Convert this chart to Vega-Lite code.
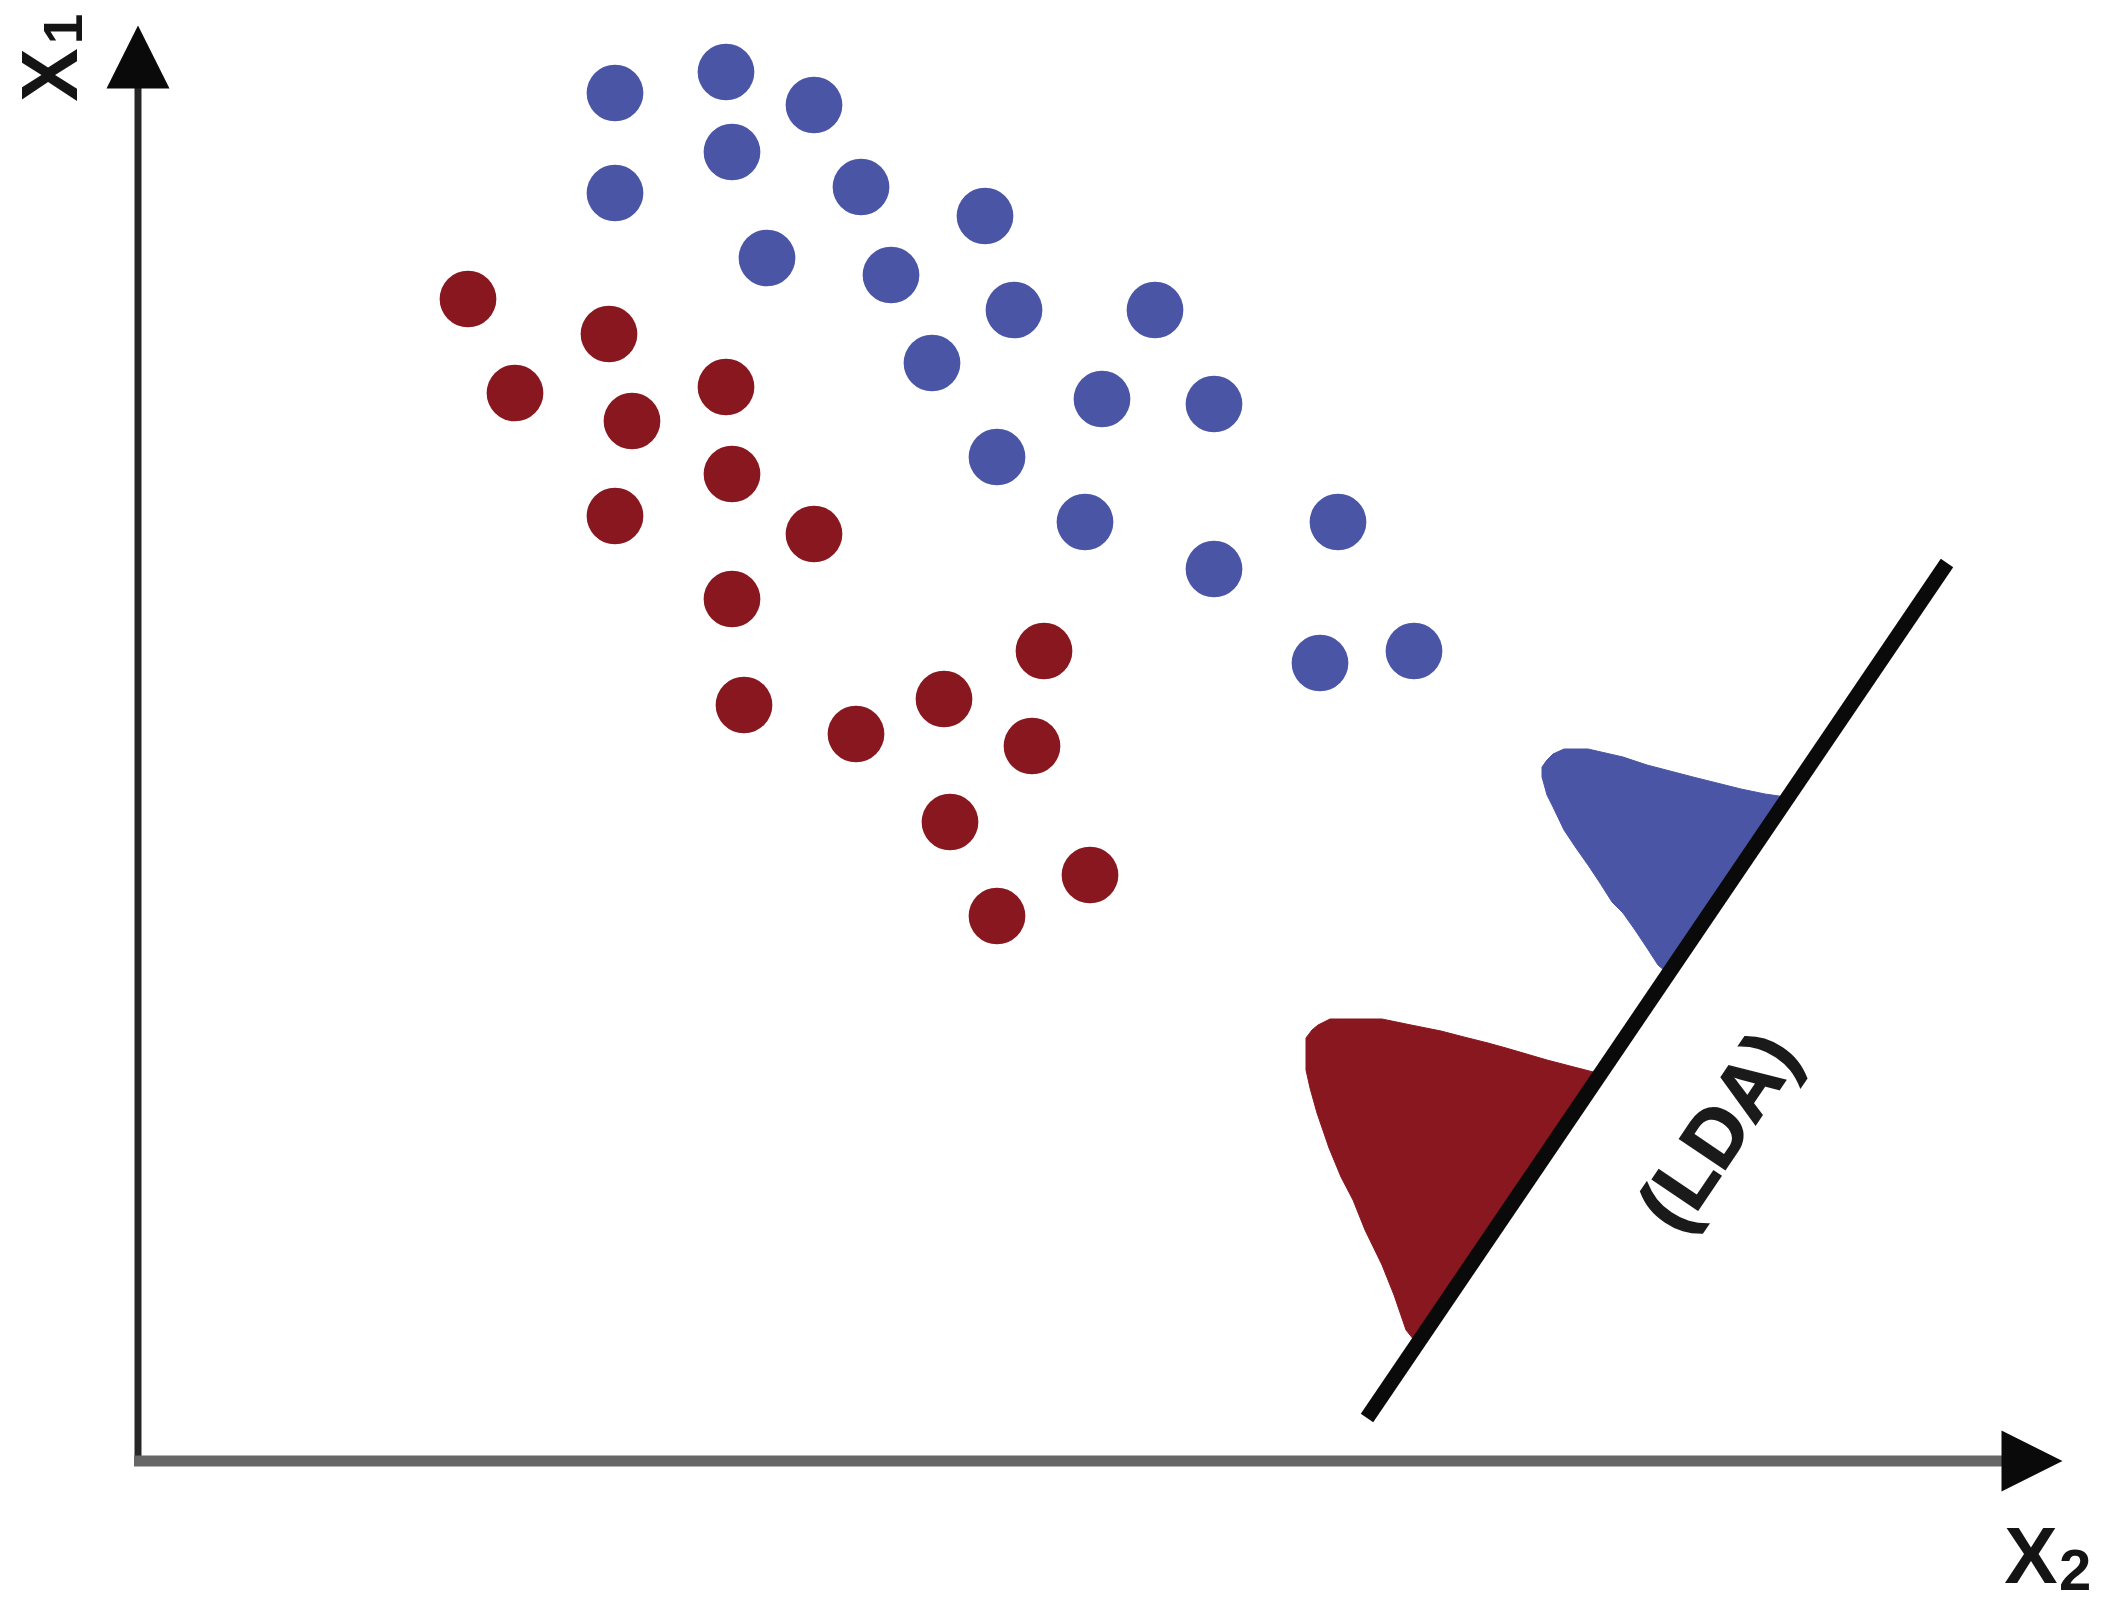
{
  "$schema": "https://vega.github.io/schema/vega-lite/v6.json",
  "width": 2107,
  "height": 1608,
  "autosize": {"type": "none"},
  "padding": 0,
  "background": "white",
  "config": {"view": {"stroke": null}},
  "datasets": {
    "dots": [
      {"cls": "blue", "x": 477, "y": 1368}, {"cls": "blue", "x": 588, "y": 1389}, {"cls": "blue", "x": 676, "y": 1356},
      {"cls": "blue", "x": 594, "y": 1309}, {"cls": "blue", "x": 477, "y": 1268}, {"cls": "blue", "x": 723, "y": 1274},
      {"cls": "blue", "x": 847, "y": 1245}, {"cls": "blue", "x": 629, "y": 1203}, {"cls": "blue", "x": 753, "y": 1186},
      {"cls": "blue", "x": 876, "y": 1151}, {"cls": "blue", "x": 1017, "y": 1151}, {"cls": "blue", "x": 794, "y": 1098},
      {"cls": "blue", "x": 964, "y": 1062}, {"cls": "blue", "x": 1076, "y": 1057}, {"cls": "blue", "x": 859, "y": 1004},
      {"cls": "blue", "x": 947, "y": 939}, {"cls": "blue", "x": 1200, "y": 939}, {"cls": "blue", "x": 1076, "y": 892},
      {"cls": "blue", "x": 1182, "y": 798}, {"cls": "blue", "x": 1276, "y": 810},
      {"cls": "red", "x": 330, "y": 1162}, {"cls": "red", "x": 471, "y": 1127}, {"cls": "red", "x": 377, "y": 1068},
      {"cls": "red", "x": 588, "y": 1074}, {"cls": "red", "x": 494, "y": 1040}, {"cls": "red", "x": 594, "y": 987},
      {"cls": "red", "x": 477, "y": 945}, {"cls": "red", "x": 676, "y": 927}, {"cls": "red", "x": 594, "y": 862},
      {"cls": "red", "x": 906, "y": 810}, {"cls": "red", "x": 606, "y": 756}, {"cls": "red", "x": 806, "y": 762},
      {"cls": "red", "x": 718, "y": 727}, {"cls": "red", "x": 894, "y": 715}, {"cls": "red", "x": 812, "y": 639},
      {"cls": "red", "x": 952, "y": 586}, {"cls": "red", "x": 859, "y": 545}
    ],
    "cones": [
      {"cls": "blue", "i": 1, "x": 1404, "y": 684}, {"cls": "blue", "i": 2, "x": 1404, "y": 694},
      {"cls": "blue", "i": 3, "x": 1409, "y": 701}, {"cls": "blue", "i": 4, "x": 1415, "y": 707},
      {"cls": "blue", "i": 5, "x": 1426, "y": 712}, {"cls": "blue", "i": 6, "x": 1450, "y": 712},
      {"cls": "blue", "i": 7, "x": 1485, "y": 704}, {"cls": "blue", "i": 8, "x": 1509, "y": 696},
      {"cls": "blue", "i": 9, "x": 1532, "y": 690}, {"cls": "blue", "i": 10, "x": 1555, "y": 684},
      {"cls": "blue", "i": 11, "x": 1579, "y": 678}, {"cls": "blue", "i": 12, "x": 1603, "y": 672},
      {"cls": "blue", "i": 13, "x": 1627, "y": 667}, {"cls": "blue", "i": 14, "x": 1648, "y": 664},
      {"cls": "blue", "i": 15, "x": 1528, "y": 489}, {"cls": "blue", "i": 16, "x": 1520, "y": 496},
      {"cls": "blue", "i": 17, "x": 1509, "y": 513}, {"cls": "blue", "i": 18, "x": 1497, "y": 531},
      {"cls": "blue", "i": 19, "x": 1485, "y": 548}, {"cls": "blue", "i": 20, "x": 1474, "y": 559},
      {"cls": "blue", "i": 21, "x": 1462, "y": 578}, {"cls": "blue", "i": 22, "x": 1450, "y": 596},
      {"cls": "blue", "i": 23, "x": 1438, "y": 613}, {"cls": "blue", "i": 24, "x": 1426, "y": 631},
      {"cls": "blue", "i": 25, "x": 1415, "y": 654}, {"cls": "blue", "i": 26, "x": 1409, "y": 666},
      {"cls": "blue", "i": 27, "x": 1404, "y": 684},
      {"cls": "red", "i": 1, "x": 1168, "y": 391}, {"cls": "red", "i": 2, "x": 1168, "y": 423},
      {"cls": "red", "i": 3, "x": 1174, "y": 431}, {"cls": "red", "i": 4, "x": 1180, "y": 436},
      {"cls": "red", "i": 5, "x": 1192, "y": 442}, {"cls": "red", "i": 6, "x": 1244, "y": 442},
      {"cls": "red", "i": 7, "x": 1273, "y": 436}, {"cls": "red", "i": 8, "x": 1303, "y": 430},
      {"cls": "red", "i": 9, "x": 1326, "y": 424}, {"cls": "red", "i": 10, "x": 1350, "y": 418},
      {"cls": "red", "i": 11, "x": 1368, "y": 413}, {"cls": "red", "i": 12, "x": 1409, "y": 401},
      {"cls": "red", "i": 13, "x": 1432, "y": 395}, {"cls": "red", "i": 14, "x": 1463, "y": 387},
      {"cls": "red", "i": 15, "x": 1280, "y": 116}, {"cls": "red", "i": 16, "x": 1268, "y": 131},
      {"cls": "red", "i": 17, "x": 1256, "y": 166}, {"cls": "red", "i": 18, "x": 1244, "y": 196},
      {"cls": "red", "i": 19, "x": 1227, "y": 231}, {"cls": "red", "i": 20, "x": 1215, "y": 261},
      {"cls": "red", "i": 21, "x": 1203, "y": 284}, {"cls": "red", "i": 22, "x": 1191, "y": 313},
      {"cls": "red", "i": 23, "x": 1179, "y": 348}, {"cls": "red", "i": 24, "x": 1172, "y": 373},
      {"cls": "red", "i": 25, "x": 1168, "y": 391}
    ],
    "axes": [
      {"id": "yaxis", "x": 0, "y": 0}, {"id": "yaxis", "x": 0, "y": 1380},
      {"id": "xaxis", "x": -4, "y": 0}, {"id": "xaxis", "x": 1870, "y": 0}
    ],
    "lda": [{"x": 1229, "y": 43}, {"x": 1809, "y": 898}],
    "arrowUp": [{"x": 0, "y": 1404}],
    "arrowRight": [{"x": 1894, "y": 0}],
    "labelMain": [{"t": "X", "x": -61, "y": 1386}],
    "labelMainH": [{"t": "X", "x": 1893, "y": -122}],
    "subV": [{"t": "1", "x": -56, "y": 1432}],
    "subH": [{"t": "2", "x": 1937, "y": -129}],
    "ldaText": [{"t": "(LDA)", "x": 1583, "y": 328}]
  },
  "encoding": {
    "x": {"field": "x", "type": "quantitative", "scale": {"domain": [-138, 1969], "nice": false, "zero": false}, "axis": null},
    "y": {"field": "y", "type": "quantitative", "scale": {"domain": [-147, 1461], "nice": false, "zero": false}, "axis": null}
  },
  "layer": [
    {
      "data": {"name": "axes"},
      "transform": [{"filter": "datum.id === 'yaxis'"}],
      "mark": {"type": "line", "stroke": "#262626", "strokeWidth": 7},
      "encoding": {"detail": {"field": "id"}}
    },
    {
      "data": {"name": "axes"},
      "transform": [{"filter": "datum.id === 'xaxis'"}],
      "mark": {"type": "line", "stroke": "#666666", "strokeWidth": 11},
      "encoding": {"detail": {"field": "id"}}
    },
    {
      "data": {"name": "arrowUp"},
      "mark": {"type": "point", "shape": "M0,-1L1,1L-1,1Z", "filled": true, "color": "#0a0a0a", "opacity": 1, "size": 3969}
    },
    {
      "data": {"name": "arrowRight"},
      "mark": {"type": "point", "shape": "M1,0L-1,-1L-1,1Z", "filled": true, "color": "#0a0a0a", "opacity": 1, "size": 3721}
    },
    {
      "data": {"name": "dots"},
      "mark": {"type": "circle", "size": 3217, "opacity": 1},
      "encoding": {
        "color": {"field": "cls", "type": "nominal", "scale": {"domain": ["blue", "red"], "range": ["#4a55a5", "#88171f"]}, "legend": null}
      }
    },
    {
      "data": {"name": "cones"},
      "transform": [{"filter": "datum.cls === 'blue'"}],
      "mark": {"type": "line", "fill": "#4a55a5", "stroke": "#4a55a5", "strokeWidth": 1},
      "encoding": {"order": {"field": "i", "type": "quantitative"}}
    },
    {
      "data": {"name": "cones"},
      "transform": [{"filter": "datum.cls === 'red'"}],
      "mark": {"type": "line", "fill": "#88171f", "stroke": "#88171f", "strokeWidth": 1},
      "encoding": {"order": {"field": "i", "type": "quantitative"}}
    },
    {
      "data": {"name": "lda"},
      "mark": {"type": "line", "stroke": "#0a0a0a", "strokeWidth": 15},
      "encoding": {}
    },
    {
      "data": {"name": "labelMain"},
      "mark": {"type": "text", "font": "Liberation Sans", "fontWeight": "bold", "fontSize": 80, "color": "#141414", "angle": 270, "align": "center", "baseline": "alphabetic"},
      "encoding": {"text": {"field": "t"}}
    },
    {
      "data": {"name": "subV"},
      "mark": {"type": "text", "font": "Liberation Sans", "fontWeight": "bold", "fontSize": 55, "color": "#141414", "angle": 270, "align": "center", "baseline": "alphabetic"},
      "encoding": {"text": {"field": "t"}}
    },
    {
      "data": {"name": "labelMainH"},
      "mark": {"type": "text", "font": "Liberation Sans", "fontWeight": "bold", "fontSize": 80, "color": "#141414", "align": "center", "baseline": "alphabetic"},
      "encoding": {"text": {"field": "t"}}
    },
    {
      "data": {"name": "subH"},
      "mark": {"type": "text", "font": "Liberation Sans", "fontWeight": "bold", "fontSize": 58, "color": "#141414", "align": "center", "baseline": "alphabetic"},
      "encoding": {"text": {"field": "t"}}
    },
    {
      "data": {"name": "ldaText"},
      "mark": {"type": "text", "font": "Liberation Sans", "fontWeight": "bold", "fontSize": 80, "color": "#1a1a1a", "angle": 304, "align": "center", "baseline": "middle", "stroke": "#1a1a1a", "strokeWidth": 1.5},
      "encoding": {"text": {"field": "t"}}
    }
  ]
}
